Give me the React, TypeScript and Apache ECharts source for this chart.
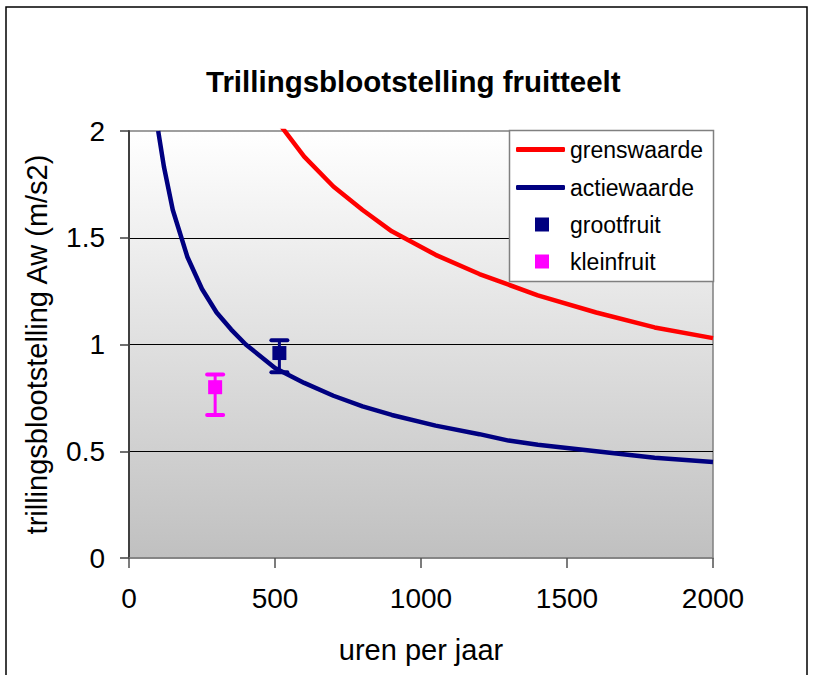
import React, { useEffect, useRef } from "react";
import * as echarts from "echarts";

const FONT = "'Liberation Sans', Arial, Helvetica, sans-serif";

// uren per jaar (x) and trillingsblootstelling Aw (m/s2) (y)
const hoursGrens = [500, 600, 700, 800, 900, 1050, 1200, 1300, 1400, 1600, 1800, 2000];
const grenswaarde = [2.06, 1.88, 1.74, 1.63, 1.53, 1.42, 1.33, 1.28, 1.23, 1.15, 1.08, 1.03];

const hoursActie = [100, 120, 150, 200, 250, 300, 350, 400, 500, 600, 700, 800, 900, 1050, 1200, 1300, 1400, 1600, 1800, 2000];
const actiewaarde = [2.0, 1.83, 1.63, 1.41, 1.26, 1.15, 1.07, 1.0, 0.89, 0.82, 0.76, 0.71, 0.67, 0.62, 0.58, 0.55, 0.53, 0.5, 0.47, 0.45];

// measured points: [hours, mean, low, high]
const grootfruit = [[515, 0.96, 0.87, 1.02]];
const kleinfruit = [[295, 0.8, 0.67, 0.86]];

const seriesNames = ["grenswaarde", "actiewaarde", "grootfruit", "kleinfruit"];
const xTicks = { min: 0, max: 2000, interval: 500 };
const yTicks = { min: 0, max: 2, interval: 0.5 };

function errorBarSeries(name: string, rows: number[][], color: string) {
  return {
    name,
    type: "custom",
    z: 4,
    data: rows.map((r) => [r[0], r[2], r[3]]),
    encode: { x: 0, y: [1, 2] },
    renderItem: (params: any, api: any) => {
      const x = api.value(0);
      const top = api.coord([x, api.value(2)]);
      const bot = api.coord([x, api.value(1)]);
      const half = 8;
      return {
        type: "group",
        children: [
          { type: "line", shape: { x1: top[0], y1: top[1], x2: bot[0], y2: bot[1] }, style: { stroke: color, lineWidth: 3 } },
          { type: "line", shape: { x1: top[0] - half, y1: top[1], x2: top[0] + half, y2: top[1] }, style: { stroke: color, lineWidth: 4, lineCap: "round" } },
          { type: "line", shape: { x1: bot[0] - half, y1: bot[1], x2: bot[0] + half, y2: bot[1] }, style: { stroke: color, lineWidth: 4, lineCap: "round" } },
        ],
      };
    },
  };
}

export default function App() {
  const ref = useRef<HTMLDivElement>(null);
  useEffect(() => {
    if (!ref.current) return;
    const chart = echarts.init(ref.current, null, { renderer: "svg" });
    const legendText = { fontSize: 23, fontFamily: FONT, color: "#000" };
    const lineLegend = (name: string, top: number) => ({
      data: [name], left: 516, top, orient: "vertical", padding: 0, z: 10,
      itemWidth: 49, itemHeight: 5, icon: "roundRect", selectedMode: false,
      textStyle: legendText,
    });
    const boxLegend = (name: string, top: number) => ({
      data: [name], left: 535, top, orient: "vertical", padding: 0, z: 10,
      itemWidth: 14, itemHeight: 14, icon: "rect", selectedMode: false,
      itemStyle: { opacity: 1 },
      textStyle: { ...legendText, padding: [0, 0, 0, 16] },
    });
    chart.setOption({
      animation: false,
      title: {
        text: "Trillingsblootstelling fruitteelt",
        left: 206,
        top: 66,
        padding: 0,
        textStyle: { fontSize: 29.5, fontWeight: "bold", fontFamily: FONT, color: "#000" },
      },
      legend: [
        lineLegend(seriesNames[0], 138),
        lineLegend(seriesNames[1], 176),
        boxLegend(seriesNames[2], 213),
        boxLegend(seriesNames[3], 250),
      ],
      graphic: [
        {
          type: "rect", z: 0, silent: true,
          shape: { x: 6, y: 7, width: 801, height: 700 },
          style: { fill: "none", stroke: "#000", lineWidth: 1.5 },
        },
        {
          type: "rect", z: 5, silent: true,
          shape: { x: 509.5, y: 130.5, width: 204, height: 151 },
          style: { fill: "#fff", stroke: "#808080", lineWidth: 1.5 },
        },
      ],
      grid: {
        left: 129, top: 131, right: 102, bottom: 117,
        show: true,
        borderColor: "#808080",
        borderWidth: 1.5,
        backgroundColor: new echarts.graphic.LinearGradient(0, 0, 0, 1, [
          { offset: 0, color: "#ffffff" },
          { offset: 1, color: "#c0c0c0" },
        ]),
      },
      xAxis: {
        type: "value",
        ...xTicks,
        name: "uren per jaar",
        nameLocation: "middle",
        nameGap: 77,
        nameTextStyle: { fontSize: 29, fontFamily: FONT, color: "#000" },
        axisLine: { show: true, lineStyle: { color: "#808080", width: 1.5 } },
        axisTick: { show: true, length: 10, lineStyle: { color: "#505050", width: 1.5 } },
        axisLabel: { fontSize: 28, fontFamily: FONT, color: "#000", margin: 26, formatter: (v: number) => String(v) },
        splitLine: { show: false },
      },
      yAxis: {
        type: "value",
        ...yTicks,
        name: "trillingsblootstelling Aw (m/s2)",
        nameLocation: "middle",
        nameGap: 78,
        nameTextStyle: { fontSize: 29, fontFamily: FONT, color: "#000" },
        axisLine: { show: true, lineStyle: { color: "#404040", width: 2 } },
        axisTick: { show: true, length: 9, lineStyle: { color: "#404040", width: 1.5 } },
        axisLabel: { fontSize: 28, fontFamily: FONT, color: "#000", margin: 24, formatter: (v: number) => String(v) },
        splitLine: { show: true, showMinLine: false, showMaxLine: false, lineStyle: { color: "#000", width: 1 } },
      },
      series: [
        {
          name: seriesNames[0], type: "line", color: "#ff0000", z: 2,
          showSymbol: false, symbol: "none", clip: true,
          lineStyle: { color: "#ff0000", width: 4.5 },
          data: hoursGrens.map((h, i) => [h, grenswaarde[i]]),
        },
        {
          name: seriesNames[1], type: "line", color: "#000080", z: 2,
          showSymbol: false, symbol: "none", clip: true,
          lineStyle: { color: "#000080", width: 4.5 },
          data: hoursActie.map((h, i) => [h, actiewaarde[i]]),
        },
        errorBarSeries("grootfruit-err", grootfruit, "#000080"),
        errorBarSeries("kleinfruit-err", kleinfruit, "#ff00ff"),
        {
          name: seriesNames[2], type: "scatter", z: 4, symbol: "rect", symbolSize: 14,
          itemStyle: { color: "#000080", opacity: 1 }, color: "#000080",
          data: grootfruit.map((r) => [r[0], r[1]]),
        },
        {
          name: seriesNames[3], type: "scatter", z: 4, symbol: "rect", symbolSize: 14,
          itemStyle: { color: "#ff00ff", opacity: 1 }, color: "#ff00ff",
          data: kleinfruit.map((r) => [r[0], r[1]]),
        },
      ],
    });
    return () => chart.dispose();
  }, []);
  return (
    <div
      ref={ref}
      style={{ position: "fixed", left: 0, top: 0, width: 815, height: 675, background: "#fff" }}
    />
  );
}
